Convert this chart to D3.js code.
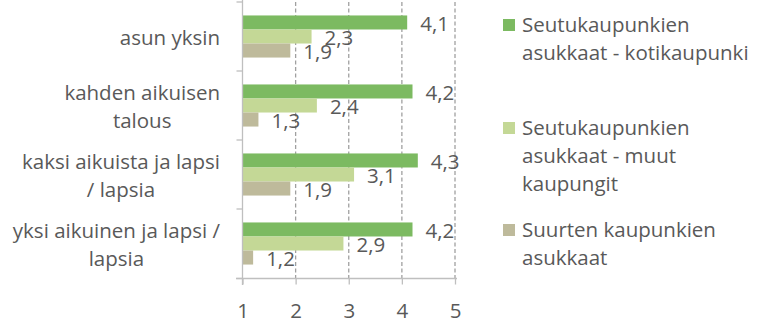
<!DOCTYPE html>
<html><head><meta charset="utf-8">
<script src="https://cdn.jsdelivr.net/npm/d3@7"></script>
<style>
html,body{margin:0;padding:0;background:#fff;}
svg text{font-family:"Open Sans",Lato,sans-serif;fill:#595959;}
</style></head>
<body><svg id="c" width="760" height="325"></svg>
<script>
const categories = ["asun yksin","kahden aikuisen talous","kaksi aikuista ja lapsi / lapsia","yksi aikuinen ja lapsi / lapsia"];
const categoryLines = [["asun yksin"],["kahden aikuisen","talous"],["kaksi aikuista ja lapsi","/ lapsia"],["yksi aikuinen ja lapsi /","lapsia"]];
const seriesNames = ["Seutukaupunkien asukkaat - kotikaupunki","Seutukaupunkien asukkaat - muut kaupungit","Suurten kaupunkien asukkaat"];
const legendLines = [["Seutukaupunkien","asukkaat - kotikaupunki"],["Seutukaupunkien","asukkaat - muut","kaupungit"],["Suurten kaupunkien","asukkaat"]];
const kotikaupunki = [4.1,4.2,4.3,4.2];
const muutKaupungit = [2.3,2.4,3.1,2.9];
const suuretKaupungit = [1.9,1.3,1.9,1.2];
const xTicks = [1,2,3,4,5];
const colors = ["#7CBA61","#C4D896","#BEBA9B"];

const seriesValues = [kotikaupunki, muutKaupungit, suuretKaupungit];
const svg = d3.select("#c");
const FS = 20.5;
const x = d3.scaleLinear().domain([1,5]).range([242.5,455]);
const y0 = d3.scaleBand().domain(categories).range([2,278]).paddingInner(0.39).paddingOuter(0.195);
const y1 = d3.scaleBand().domain(seriesNames).range([0,y0.bandwidth()]);

// gridlines
svg.append("g").selectAll("line").data(xTicks.slice(1)).join("line")
  .attr("x1",d=>x(d)).attr("x2",d=>x(d)).attr("y1",2).attr("y2",278.5)
  .attr("stroke","#A0A0A0").attr("stroke-width",1.3).attr("stroke-dasharray","4,2.5");

// bars
const gs = svg.append("g").selectAll("g").data(categories).join("g")
  .attr("transform",d=>`translate(0,${y0(d)})`);
gs.selectAll("rect").data((d,i)=>seriesNames.map((s,j)=>({s,j,v:seriesValues[j][i]}))).join("rect")
  .attr("x",x(1)).attr("y",d=>y1(d.s)).attr("height",y1.bandwidth())
  .attr("width",d=>x(d.v)-x(1)).attr("fill",d=>colors[d.j]);
gs.selectAll("text").data((d,i)=>seriesNames.map((s,j)=>({s,j,v:seriesValues[j][i]}))).join("text")
  .attr("x",d=>x(d.v)+13).attr("y",d=>y1(d.s)+y1.bandwidth()/2+1).attr("dy","0.35em")
  .attr("font-size",FS).text(d=>d3.format(".1f")(d.v).replace(".",","));

// axes
const xAxis = svg.append("g").attr("transform","translate(0,278.5)")
  .call(d3.axisBottom(x).tickValues(xTicks).tickSize(6).tickPadding(19).tickFormat(d=>d));
xAxis.select(".domain").remove();
xAxis.append("line").attr("x1",236).attr("x2",457).attr("stroke","#BFBFBF").attr("stroke-width",1.3);
xAxis.selectAll(".tick line").attr("stroke","#BFBFBF").attr("stroke-width",1.3);
xAxis.selectAll(".tick text").attr("font-size",FS).attr("font-family",null).style("fill","#595959");

svg.append("line").attr("x1",242.5).attr("x2",242.5).attr("y1",0).attr("y2",285)
  .attr("stroke","#BFBFBF").attr("stroke-width",1.3);
const bounds = categories.map(c=>y0(c)-y0.step()*y0.paddingInner()/2).concat([278.5]);
svg.append("g").selectAll("line").data(bounds).join("line")
  .attr("x1",236.5).attr("x2",242.5).attr("y1",d=>d).attr("y2",d=>d)
  .attr("stroke","#BFBFBF").attr("stroke-width",1.3);

// category labels
const LH = 28;
categories.forEach((c,i)=>{
  const lines = categoryLines[i];
  const g = svg.append("g");
  const cy = y0(c)+y0.bandwidth()/2+1;
  const texts = g.selectAll("text").data(lines).join("text")
    .attr("font-size",FS).attr("y",(d,k)=>cy+(k-(lines.length-1)/2)*LH).attr("dy","0.35em")
    .text(d=>d);
  let maxW = 0; texts.each(function(){maxW=Math.max(maxW,this.getComputedTextLength());});
  texts.attr("text-anchor","middle").attr("x",220-maxW/2);
});

// legend
const legTops = [25,128,230];
legendLines.forEach((lines,i)=>{
  const g = svg.append("g");
  g.append("rect").attr("x",503).attr("y",legTops[i]-6).attr("width",12).attr("height",12).attr("fill",colors[i]);
  g.selectAll("text").data(lines).join("text").attr("x",522).attr("y",(d,k)=>legTops[i]+k*LH).attr("dy","0.35em")
    .attr("font-size",FS).text(d=>d);
});
</script></body></html>
